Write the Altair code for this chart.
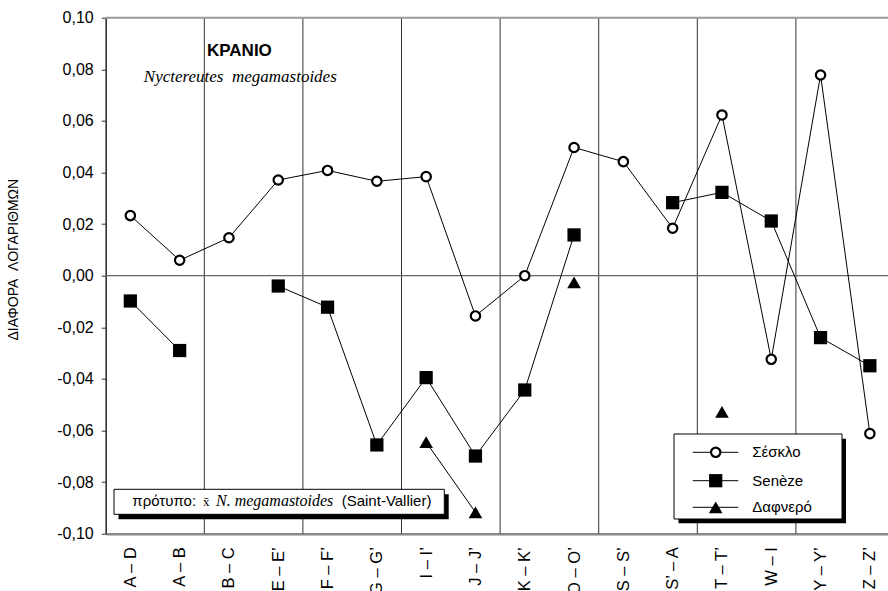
import json
import altair as alt
import pandas as pd

# ---------------- data ----------------
categories = ["A – D", "A – B", "B – C", "E – E’", "F – F’", "G – G’", "I – I’", "J – J’",
              "K – K’", "O – O’", "S – S’", "S’ – A", "T – T’", "W – I", "Y – Y’", "Z – Z’"]
series_names = ["Σέσκλο", "Senèze", "Δαφνερό"]
seskla = [0.0233, 0.0060, 0.0147, 0.0371, 0.0408, 0.0366, 0.0384, -0.0156,
          0.0000, 0.0497, 0.0442, 0.0184, 0.0623, -0.0324, 0.0778, -0.0612]
seneze = [-0.0098, -0.0290, None, -0.0040, -0.0122, -0.0656, -0.0395, -0.0699,
          -0.0443, 0.0158, None, 0.0283, 0.0323, 0.0212, -0.0240, -0.0349]
dafnero = [None, None, None, None, None, None, -0.0645, -0.0917,
           None, -0.0026, None, None, -0.0528, None, None, None]
y_ticks = [-0.10, -0.08, -0.06, -0.04, -0.02, 0.0, 0.02, 0.04, 0.06, 0.08, 0.10]
group_bounds = [1.5, 3.5, 5.5, 7.5, 9.5, 11.5, 13.5]

rows = []
for name, vals in zip(series_names, [seskla, seneze, dafnero]):
    seg, gap = 0, True
    for i, v in enumerate(vals):
        if v is None:
            gap = True
            continue
        if gap:
            seg += 1
            gap = False
        rows.append({"series": name, "idx": i, "value": v, "seg": f"{name}-{seg}"})
df = pd.DataFrame(rows)

# ---------------- layout ----------------
W, H = 782.3, 516
SANS = "Liberation Sans"
SERIF = "Liberation Serif"

x_scale = alt.Scale(domain=[-0.5, 15.368], nice=False, zero=False)
y_scale = alt.Scale(domain=[-0.1, 0.1], nice=False, zero=False)

x_label_expr = json.dumps(categories, ensure_ascii=False) + "[round(datum.value)]"
x_axis = alt.Axis(values=list(range(len(categories))), labelExpr=x_label_expr, labelAngle=270,
                  ticks=False, labelPadding=13, domainColor="#888", domainWidth=2.5, grid=False,
                  title=None, labelFontSize=16.5, labelFont=SANS, labelColor="black",
                  labelOverlap=False)
y_axis = alt.Axis(values=y_ticks,
                  labelExpr="(datum.value < -0.0001 ? '-' : '') + replace(format(abs(datum.value), '.2f'), '.', ',')",
                  tickSize=4.5, tickColor="#333", tickWidth=1, domainColor="#333", domainWidth=1.6,
                  grid=False, title=None, labelFontSize=16, labelPadding=8, labelFont=SANS,
                  labelColor="black")

X = alt.X("idx:Q", scale=x_scale, axis=x_axis)
Y = alt.Y("value:Q", scale=y_scale, axis=y_axis)

one = pd.DataFrame({"a": [0]})

vgrid = alt.Chart(pd.DataFrame({"idx": group_bounds})).mark_rule(color="#333", strokeWidth=1).encode(x=X)
zero = alt.Chart(pd.DataFrame({"value": [0.0]})).mark_rule(color="#666", strokeWidth=1.3).encode(y=Y)
top = alt.Chart(one).mark_rule(color="#999", strokeWidth=2).encode(
    x=alt.value(0), x2=alt.value(W), y=alt.value(0))

lines = alt.Chart(df).mark_line(color="black", strokeWidth=1).encode(
    x=X, y=Y, detail="seg:N", order="idx:Q")

CIRC = dict(shape="circle", size=88, filled=True, fill="white", stroke="black", strokeWidth=2.2, opacity=1)
SQ = dict(shape="square", size=175, filled=True, color="black", opacity=1)
TRI = dict(shape="triangle-up", size=185, filled=True, color="black", opacity=1)

circles = alt.Chart(df).transform_filter(alt.datum.series == series_names[0]).mark_point(
    **CIRC).encode(x=X, y=Y)
squares = alt.Chart(df).transform_filter(alt.datum.series == series_names[1]).mark_point(
    **SQ).encode(x=X, y=Y)
triangles = alt.Chart(df).transform_filter(alt.datum.series == series_names[2]).mark_point(
    **TRI).encode(x=X, y=Y)


def box(x1, x2, y1, y2, fill, stroke=None):
    kw = dict(fill=fill)
    if stroke:
        kw.update(stroke=stroke, strokeWidth=1)
    return alt.Chart(one).mark_rect(**kw).encode(
        x=alt.value(x1), x2=alt.value(x2), y=alt.value(y1), y2=alt.value(y2))


def label(text, x, y, size, font=SANS, style="normal", weight="normal", align="left",
          baseline="alphabetic", angle=0):
    return alt.Chart(pd.DataFrame({"t": [text]})).mark_text(
        font=font, fontSize=size, fontStyle=style, fontWeight=weight, align=align,
        baseline=baseline, angle=angle, color="black"
    ).encode(text="t:N", x=alt.value(x), y=alt.value(y))


# legend box
leg = [box(572.8, 740.3, 421, 505.6, "black"), box(568.3, 736.3, 416.3, 501.3, "white", "black")]
leg_y = [434.6, 463.0, 489.6]
for name, yy, kw in zip(series_names, leg_y, [CIRC, SQ, TRI]):
    leg.append(alt.Chart(one).mark_rule(color="black", strokeWidth=1).encode(
        x=alt.value(587), x2=alt.value(632.6), y=alt.value(yy)))
    leg.append(alt.Chart(one).mark_point(**kw).encode(x=alt.value(610), y=alt.value(yy)))
    leg.append(label(name, 646.6, yy, 15, baseline="middle"))

# reference box bottom-left
ref = [box(12.8, 343, 476.6, 501.6, "black"), box(8.3, 338.6, 471.6, 496.6, "white", "black"),
       label("πρότυπο:", 26.6, 488.5, 15),
       label("x\u0304", 97.2, 488.5, 13, font=SERIF),
       label("N. megamastoides", 110.3, 488.5, 16, font=SERIF, style="italic"),
       label("(Saint-Vallier)", 236, 488.5, 15)]

titles = [label("ΚΡΑΝΙΟ", 133.7, 38, 17, weight="bold", align="center"),
          label("Nyctereutes\u00a0\u00a0megamastoides", 134.6, 64, 17, font=SERIF,
                style="italic", align="center"),
          label("ΔΙΑΦΟΡΑ\u00a0\u00a0ΛΟΓΑΡΙΘΜΩΝ", -92, 242, 14, align="center",
                baseline="middle", angle=270)]

chart = alt.layer(vgrid, zero, top, lines, circles, squares, triangles, *leg, *ref, *titles).properties(
    width=W, height=H,
    autosize=alt.AutoSizeParams(type="none"),
    padding={"left": 105.7, "top": 17.7, "right": 0, "bottom": 57.3},
    background="white",
).configure_view(stroke=None)

chart.save("out.html", embed_options={"renderer": "svg", "actions": False})
